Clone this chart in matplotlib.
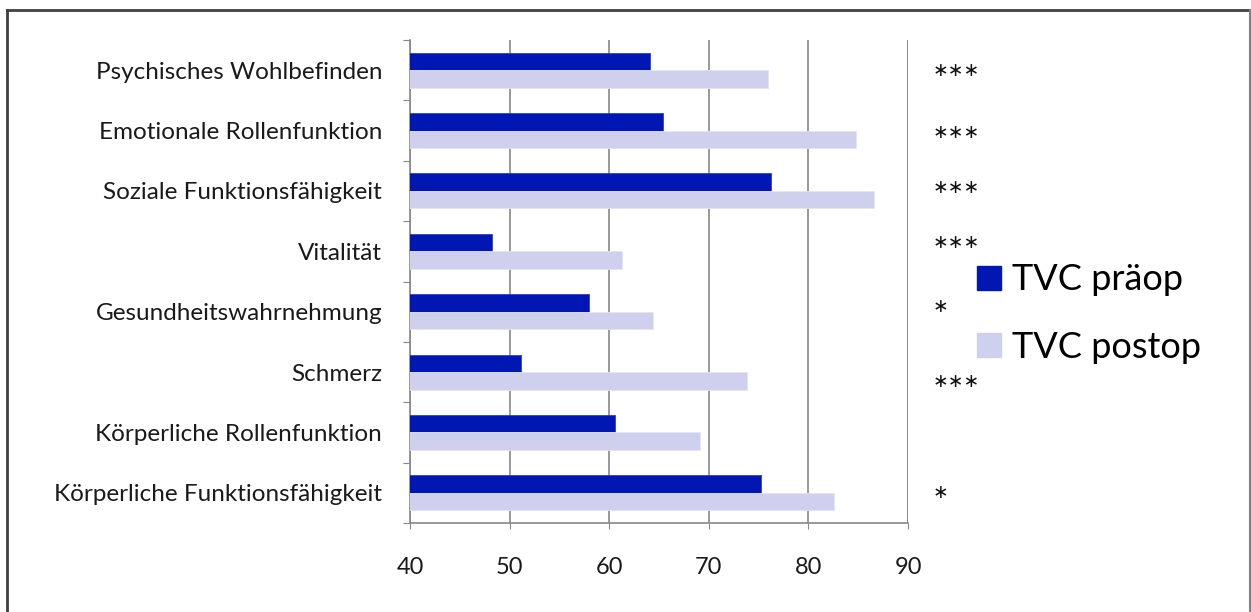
import matplotlib
matplotlib.use("Agg")
import matplotlib.pyplot as plt
from matplotlib.patches import Patch
from matplotlib.lines import Line2D
import numpy as np

categories = ["Körperliche Funktionsfähigkeit", "Körperliche Rollenfunktion", "Schmerz",
              "Gesundheitswahrnehmung", "Vitalität", "Soziale Funktionsfähigkeit",
              "Emotionale Rollenfunktion", "Psychisches Wohlbefinden"]
praeop = [75.2, 60.6, 51.1, 58.0, 48.2, 76.2, 65.4, 64.1]
postop = [82.6, 69.1, 73.8, 64.4, 61.3, 86.6, 84.8, 75.9]
signif = ["*", "", "***", "*", "***", "***", "***", "***"]
sig_offsets = [0.0, 0.0, 0.16, -0.08, -0.15, -0.06, 0.03, 0.0]
xticks = [40, 50, 60, 70, 80, 90]
series_names = ["TVC präop", "TVC postop"]

plt.rcParams['font.family'] = ['Lato', 'DejaVu Sans']

fig = plt.figure(figsize=(12.51, 6.12), dpi=100)
ax = fig.add_axes([410/1251, 1-523/612, (908-410)/1251, (523-40)/612])

c_pre = "#0017B3"
c_post = "#CFD0EE"
y = np.arange(len(categories))
h = 0.29
ax.barh(y + h/2, praeop, height=h, left=0, color=c_pre, edgecolor="#3040C8", linewidth=0.6, zorder=3)
ax.barh(y - h/2, postop, height=h, left=0, color=c_post, edgecolor="#E4E4F6", linewidth=0.6, zorder=3)

ax.set_xlim(40, 90)
ax.set_ylim(-0.5, len(categories) - 0.5)
ax.set_xticks(xticks)
ax.set_xticklabels([str(v) for v in xticks], fontsize=17, color="#1a1a1a")
ax.set_yticks(np.arange(-0.5, len(categories), 1.0), minor=False)
ax.set_yticklabels([])
ax.set_yticks(y, minor=True)
ax.set_yticklabels(categories, minor=True, fontsize=17.5, color="#1a1a1a")
ax.tick_params(axis='y', which='minor', length=0, pad=20)
ax.tick_params(axis='y', which='major', length=5, color="#888888", direction='out')
ax.tick_params(axis='x', length=4.5, color="#888888", direction='out', pad=20)

ax.grid(axis='x', color="#888888", linewidth=1.2, zorder=0)
for s in ["top", "right"]:
    ax.spines[s].set_visible(False)
for s in ["left", "bottom"]:
    ax.spines[s].set_color("#888888")
    ax.spines[s].set_linewidth(1.2)
ax.axvline(90, color="#888888", linewidth=1.2, zorder=0)

for yi, s, off in zip(y, signif, sig_offsets):
    if s:
        ax.text(92.5, yi - off, "\u2217" * len(s), fontsize=13.5, va='center', ha='left',
                clip_on=False, family=['DejaVu Sans'], color="#111111")

handles = [Patch(facecolor=c_pre, edgecolor=c_pre), Patch(facecolor=c_post, edgecolor=c_post)]
fig.legend(handles, series_names, loc='center left', bbox_to_anchor=(963/1251, 1-313.5/612),
           frameon=False, fontsize=26, handlelength=0.65, handleheight=0.65,
           handletextpad=0.3, labelspacing=0.95, borderaxespad=0)

# outer frame
fig.add_artist(Line2D([7/1251, 7/1251], [0, 1-10/612], transform=fig.transFigure, color="#404040", linewidth=2))
fig.add_artist(Line2D([7/1251, 1250/1251], [1-10/612, 1-10/612], transform=fig.transFigure, color="#404040", linewidth=2))
fig.add_artist(Line2D([1249.5/1251, 1249.5/1251], [0, 1-10/612], transform=fig.transFigure, color="#808080", linewidth=1.5))

fig.savefig("out.png", dpi=100, facecolor="white")
